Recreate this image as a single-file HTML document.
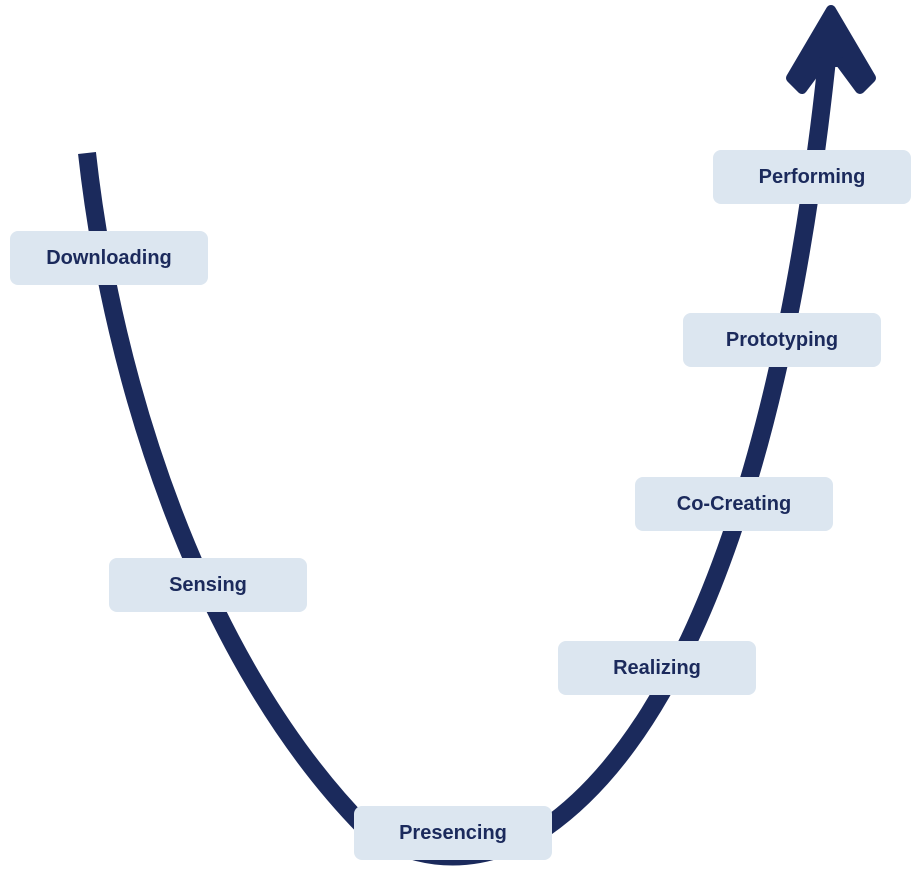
<!DOCTYPE html>
<html><head><meta charset="utf-8"><style>
html,body{margin:0;padding:0;background:#fff;width:922px;height:870px;overflow:hidden}
.b{position:absolute;width:198px;height:54px;background:#dce6f0;border-radius:8px;display:flex;align-items:center;justify-content:center;font-family:"Liberation Sans",sans-serif;font-weight:bold;font-size:20px;color:#1b2a5c}
svg{position:absolute;left:0;top:0}
</style></head><body>
<svg width="922" height="870">
<path d="M87,153 C 112,380 200,660 365,828 Q 450,885 545,828 C 700,720 790,420 828,50" fill="none" stroke="#1b2a5c" stroke-width="18"/>
<polygon points="831,10 871,78 860,89 840,62 822,62 802,89 791,78" fill="#1b2a5c" stroke="#1b2a5c" stroke-width="10" stroke-linejoin="round"/>
</svg>
<div class="b" style="left:10px;top:231px">Downloading</div>
<div class="b" style="left:109px;top:558px">Sensing</div>
<div class="b" style="left:354px;top:806px">Presencing</div>
<div class="b" style="left:558px;top:641px">Realizing</div>
<div class="b" style="left:635px;top:477px">Co-Creating</div>
<div class="b" style="left:683px;top:313px">Prototyping</div>
<div class="b" style="left:713px;top:150px">Performing</div>
</body></html>
